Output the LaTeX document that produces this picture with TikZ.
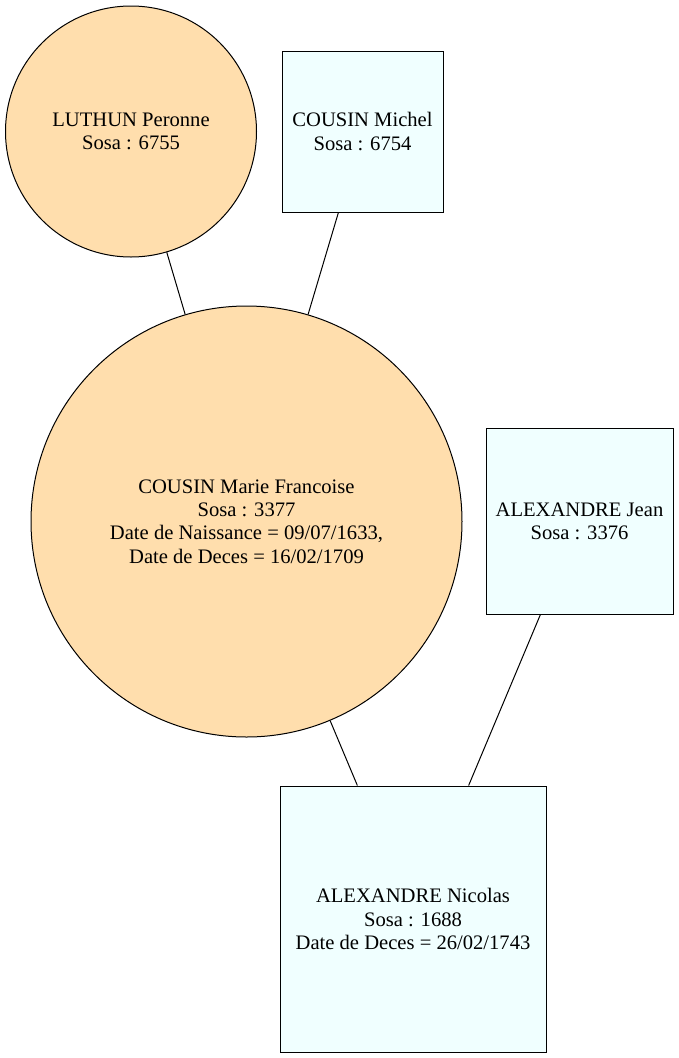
\documentclass[tikz,border=0pt]{standalone}
\usepackage{fontspec}
\setmainfont{Liberation Serif}
\definecolor{navwhite}{HTML}{FFDEAD}
\definecolor{azurefill}{HTML}{F0FFFF}
\tikzset{
  person/.style={draw=black, line width=1pt, align=center, inner sep=0pt,
    font=\fontsize{20.6}{23.2}\selectfont},
  fem/.style={person, circle, fill=navwhite},
  masc/.style={person, rectangle, fill=azurefill},
  link/.style={draw=black, line width=1pt}
}
\begin{document}
\begin{tikzpicture}[x=1pt,y=-1pt]
\fill[white] (0,0) rectangle (678,1058);
\useasboundingbox (0,0) rectangle (678,1058);
\node[fem, minimum size=251pt] (luthun) at (131,131.5) {LUTHUN Peronne\\Sosa : 6755};
\node[masc, minimum width=161pt, minimum height=161pt] (michel) at (362.5,131.5) {COUSIN Michel\\Sosa : 6754};
\node[fem, minimum size=431pt] (marie) at (246.5,521.5) {COUSIN Marie Francoise\\Sosa : 3377\\Date de Naissance = 09/07/1633,\\Date de Deces = 16/02/1709};
\node[masc, minimum width=187pt, minimum height=186pt] (jean) at (579.5,521) {ALEXANDRE Jean\\Sosa : 3376};
\node[masc, minimum width=266pt, minimum height=266pt] (nicolas) at (413,919) {ALEXANDRE Nicolas\\Sosa : 1688\\Date de Deces = 26/02/1743};
\draw[link] (luthun) -- (marie);
\draw[link] (michel) -- (marie);
\draw[link] (marie) -- (nicolas);
\draw[link] (jean) -- (nicolas);
\end{tikzpicture}
\end{document}
